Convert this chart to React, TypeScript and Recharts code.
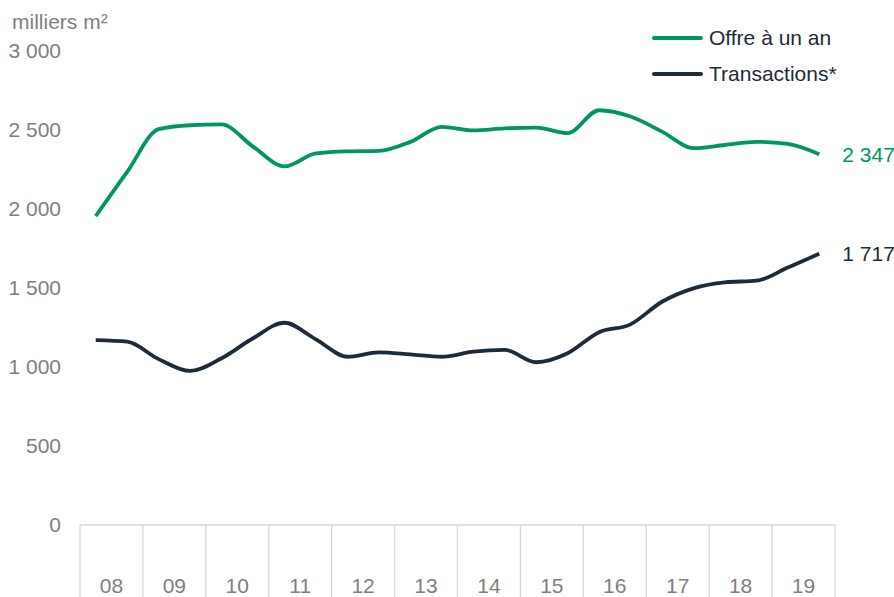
import React from 'react';
import { LineChart, Line, XAxis, YAxis } from 'recharts';

const GREEN = '#00965E';
const DARK = '#1E2B38';
const GREY = '#7F7F7F';
const RULE = '#D9D9D9';
const FONT = '"Liberation Sans", Arial, sans-serif';

const W = 894;
const H = 597;
const MARGIN = { top: 51, right: 59, bottom: 0, left: 0 };
const Y_AXIS_W = 80;
const X_AXIS_H = 72;
// largeur d'une année sur l'axe
const HALF_YEAR = (W - Y_AXIS_W - MARGIN.right) / 12 / 2;

const years = ['08', '09', '10', '11', '12', '13', '14', '15', '16', '17', '18', '19'];
const yTicks = [0, 500, 1000, 1500, 2000, 2500, 3000];

// données semestrielles, milliers m²
const offre = [
  1955, 2235, 2505, 2530, 2535, 2395, 2270, 2352, 2365, 2368, 2425, 2520,
  2497, 2510, 2515, 2480, 2625, 2585, 2490, 2385, 2405, 2425, 2412, 2347
];
const transactions = [
  1170, 1160, 1050, 975, 1055, 1182, 1280, 1175, 1065, 1093, 1080, 1065,
  1097, 1108, 1030, 1087, 1220, 1270, 1413, 1498, 1536, 1546, 1629, 1717
];

const data = offre.map((v, i) => ({ x: i / 2 + 0.25, offre: v, transactions: transactions[i] }));
const xTicks = years.map((_, i) => i).concat(years.length);

function fmt(v: number) {
  return String(v).replace(/\B(?=(\d{3})+(?!\d))/g, ' ');
}

function YearTick({ x, y, payload }: any) {
  const i = payload.value;
  return (
    <g>
      <line x1={x} x2={x} y1={y} y2={y + X_AXIS_H} stroke={RULE} strokeWidth={1.3} />
      {i < years.length && (
        <text x={x + HALF_YEAR} y={y + 60} textAnchor="middle" dominantBaseline="central" fill={GREY} fontSize={21} fontFamily={FONT}>
          {years[i]}
        </text>
      )}
    </g>
  );
}

function endLabel(color: string) {
  return (p: any) =>
    p.index === offre.length - 1 ? (
      <text x={p.x + 23} y={p.y} dominantBaseline="central" fill={color} fontSize={21} fontFamily={FONT}>
        {fmt(p.value)}
      </text>
    ) : (
      <g />
    );
}

function LegendRow({ color, label }: { color: string; label: string }) {
  return (
    <div style={{ display: 'flex', alignItems: 'center', height: 36 }}>
      <div style={{ width: 51, height: 4, borderRadius: 2, background: color, marginRight: 6 }} />
      <span style={{ fontSize: 21, color: '#222B36' }}>{label}</span>
    </div>
  );
}

export default function App() {
  return (
    <div style={{ position: 'absolute', left: 0, top: 0, width: W, height: H, background: '#fff', fontFamily: FONT, overflow: 'hidden' }}>
      <div style={{ position: 'absolute', left: 12, top: 8, fontSize: 21, color: GREY, lineHeight: '28px' }}>milliers m²</div>
      <div style={{ position: 'absolute', left: 652, top: 20 }}>
        <LegendRow color={GREEN} label="Offre à un an" />
        <LegendRow color={DARK} label="Transactions*" />
      </div>
      <LineChart width={W} height={H} data={data} margin={MARGIN}>
        <XAxis
          type="number"
          dataKey="x"
          domain={[0, years.length]}
          ticks={xTicks}
          interval={0}
          height={X_AXIS_H}
          tickSize={0}
          tickMargin={0}
          tickLine={false}
          axisLine={{ stroke: RULE, strokeWidth: 1.5 }}
          tick={<YearTick />}
        />
        <YAxis
          domain={[0, 3000]}
          ticks={yTicks}
          width={Y_AXIS_W}
          tickSize={0}
          tickMargin={19}
          axisLine={false}
          tickLine={false}
          tickFormatter={fmt}
          tick={{ fill: GREY, fontSize: 21, fontFamily: FONT }}
        />
        <Line
          type="monotone"
          dataKey="offre"
          stroke={GREEN}
          strokeWidth={3.8}
          dot={false}
          isAnimationActive={false}
          label={endLabel(GREEN)}
        />
        <Line
          type="monotone"
          dataKey="transactions"
          stroke={DARK}
          strokeWidth={3.8}
          dot={false}
          isAnimationActive={false}
          label={endLabel(DARK)}
        />
      </LineChart>
    </div>
  );
}
